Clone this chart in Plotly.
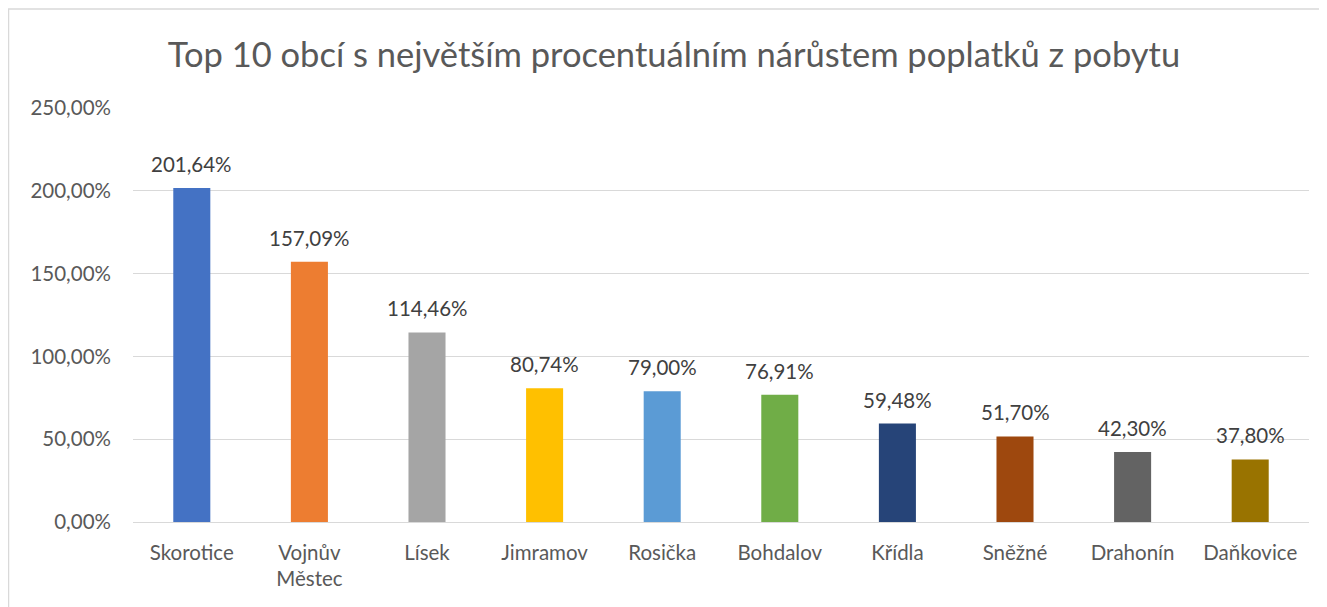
import plotly.graph_objects as go

categories = ["Skorotice", "Vojnův<br>Městec", "Lísek", "Jimramov", "Rosička",
              "Bohdalov", "Křídla", "Sněžné", "Drahonín", "Daňkovice"]
values = [201.64, 157.09, 114.46, 80.74, 79.00, 76.91, 59.48, 51.70, 42.30, 37.80]
colors = ["#4472C4", "#ED7D31", "#A5A5A5", "#FFC000", "#5B9BD5",
          "#70AD47", "#264478", "#9E480E", "#636363", "#997300"]
tick_vals = [0, 50, 100, 150, 200, 250]
tick_text = ["0,00%", "50,00%", "100,00%", "150,00%", "200,00%", "250,00%"]

FONT = "Lato"
W, H = 1319, 599
L, R, T, B = 125, 18, 100, 85
PW, PH = W - L - R, H - T - B

fig = go.Figure(go.Bar(x=categories, y=values, marker=dict(color=colors, line=dict(width=0)),
                       hoverinfo="skip"))

for c, v in zip(categories, values):
    fig.add_annotation(x=c, y=v, text=f"{v:.2f}".replace(".", ",") + "%",
                       showarrow=False, yanchor="bottom", yshift=10,
                       font=dict(family=FONT, size=20.5, color="#404040"))

fig.update_layout(
    width=W, height=H,
    margin=dict(l=L, r=R, t=T, b=B, autoexpand=False),
    paper_bgcolor="white", plot_bgcolor="white",
    bargap=0.685,
    title=dict(text="Top 10 obcí s největším procentuálním nárůstem poplatků z pobytu",
               x=(674 - 8 - L) / PW, xref="paper", xanchor="center",
               y=1 - 47/H, yanchor="middle",
               font=dict(family=FONT, size=34.5, color="#595959")),
    showlegend=False,
    xaxis=dict(showgrid=False, showline=True, linecolor="#d9d9d9", linewidth=1,
               ticks="", ticklabelstandoff=12,
               tickfont=dict(family=FONT, size=20.5, color="#595959")),
    yaxis=dict(range=[0, 250], tickvals=tick_vals, ticktext=tick_text,
               showgrid=True, gridcolor="#d9d9d9", gridwidth=1, zeroline=False,
               showline=False, ticks="", ticklabelstandoff=21,
               tickfont=dict(family=FONT, size=20.5, color="#595959")),
    shapes=[dict(type="rect", xref="paper", yref="paper",
                 x0=-(L - 0.5) / PW, x1=1.2, y0=-0.5, y1=1 + (T - 1) / PH,
                 line=dict(color="#d9d9d9", width=1.5), fillcolor="rgba(0,0,0,0)", layer="below")],
)

fig.write_html("out.html")
